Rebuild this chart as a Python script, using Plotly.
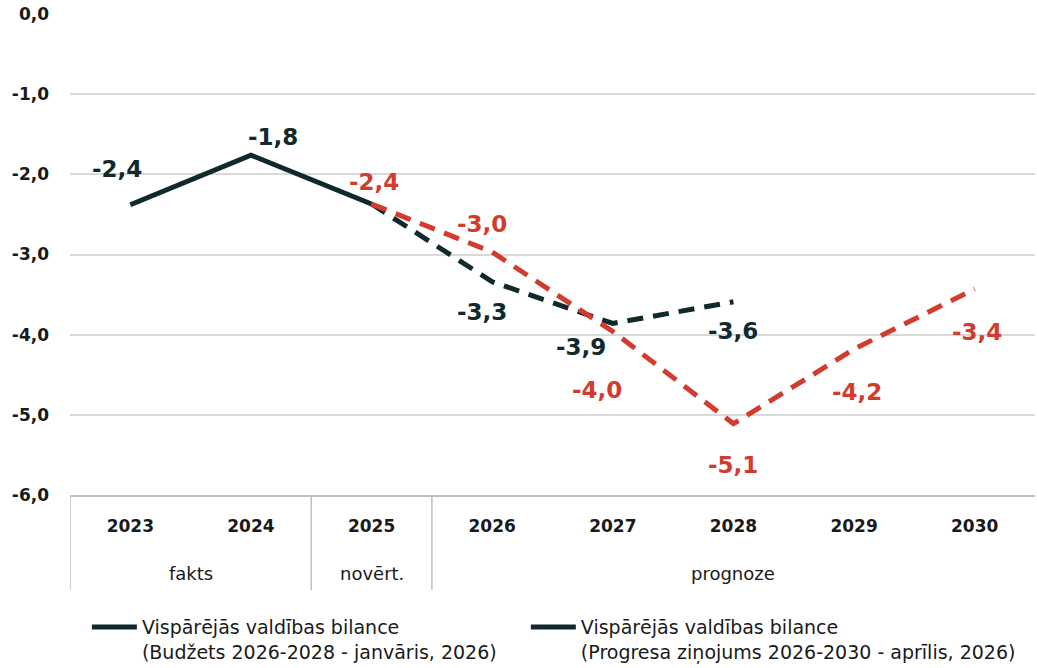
import plotly.graph_objects as go

# ---- data ----
years = ["2023", "2024", "2025", "2026", "2027", "2028", "2029", "2030"]
groups = ["fakts", "novērt.", "prognoze"]
group_spans = [(0, 1), (2, 2), (3, 7)]  # category index ranges for each group

budzets_years = ["2023", "2024", "2025", "2026", "2027", "2028"]
budzets_vals = [-2.38, -1.76, -2.37, -3.34, -3.86, -3.59]
budzets_solid_n = 3  # 2023-2025 solid (fakts + novērt.)

progresa_years = ["2025", "2026", "2027", "2028", "2029", "2030"]
progresa_vals = [-2.37, -2.97, -3.96, -5.11, -4.18, -3.43]

y_ticks = [0, -1, -2, -3, -4, -5, -6]

legend_names = [
    "Vispārējās valdības bilance<br>(Budžets 2026-2028 - janvāris, 2026)" + "\u00a0" * 4,
    "Vispārējās valdības bilance<br>(Progresa ziņojums 2026-2030 - aprīlis, 2026)",
]

# ---- styles ----
DARK = "#10292d"
RED = "#d23b2d"
GRID = "#d9d9d9"
AXIS = "#bfbfbf"
FONT = "DejaVu Sans"

# label offsets (px) for each point: (xshift, yshift)
budzets_lbl_shift = [(-13, 36), (22, 18), None, (-10, -30), (-32, -24), (0, -29)]
progresa_lbl_shift = [(2, 22), (-10, 28), (-16, -59), (0, -41), (3, -43), (2, -43)]


def fmt(v):
    return f"{v:.1f}".replace(".", ",")


fig = go.Figure()

# Budžets: solid part
fig.add_trace(go.Scatter(
    x=budzets_years[:budzets_solid_n], y=budzets_vals[:budzets_solid_n],
    mode="lines", line=dict(color=DARK, width=5), showlegend=False, hoverinfo="skip"))
# Budžets: dashed forecast part
fig.add_trace(go.Scatter(
    x=budzets_years[budzets_solid_n - 1:], y=budzets_vals[budzets_solid_n - 1:],
    mode="lines", line=dict(color=DARK, width=5, dash="16px,10px"), showlegend=False, hoverinfo="skip"))
# Progresa: dashed
fig.add_trace(go.Scatter(
    x=progresa_years, y=progresa_vals,
    mode="lines", line=dict(color=RED, width=5, dash="16px,10px"), showlegend=False, hoverinfo="skip"))

# legend-only entries (reference legend shows both as dark solid lines)
for nm in legend_names:
    fig.add_trace(go.Scatter(x=[None], y=[None], mode="lines",
                             line=dict(color=DARK, width=5), name=nm))

annotations = []
for yr, v, sh in zip(budzets_years, budzets_vals, budzets_lbl_shift):
    if sh is None:
        continue
    annotations.append(dict(x=years.index(yr), y=v, xref="x", yref="y", text=fmt(v), showarrow=False,
                            xshift=sh[0], yshift=sh[1],
                            font=dict(family=FONT, size=23, color=DARK, weight="bold")))
for yr, v, sh in zip(progresa_years, progresa_vals, progresa_lbl_shift):
    annotations.append(dict(x=years.index(yr), y=v, xref="x", yref="y", text=fmt(v), showarrow=False,
                            xshift=sh[0], yshift=sh[1],
                            font=dict(family=FONT, size=23, color=RED, weight="bold")))

# group labels under the years
for g, (a, b) in zip(groups, group_spans):
    annotations.append(dict(x=(a + b) / 2, y=0, xref="x", yref="paper", text=g,
                            showarrow=False, yanchor="middle", yshift=-78,
                            font=dict(family=FONT, size=18, color="#1a1a1a")))

shapes = []
div_bottom = -(590 - 495) / 481
for pos in [-0.5] + [b + 0.5 for (a, b) in group_spans[:-1]]:
    shapes.append(dict(type="line", xref="x", yref="paper", x0=pos, x1=pos,
                       y0=0, y1=div_bottom, line=dict(color=AXIS, width=1.5)))

fig.update_layout(
    width=1037, height=668,
    margin=dict(l=70, r=2, t=14, b=173, autoexpand=False),
    paper_bgcolor="white", plot_bgcolor="white",
    font=dict(family=FONT, color="#1a1a1a"),
    annotations=annotations,
    shapes=shapes,
    legend=dict(orientation="h", x=0.0175, xanchor="left", y=-0.235, yanchor="top",
                font=dict(family=FONT, size=19, color="#1a1a1a"),
                valign="top", itemwidth=45, bgcolor="rgba(0,0,0,0)"),
)
fig.update_xaxes(type="category", categoryorder="array", categoryarray=years,
                 range=[-0.5, len(years) - 0.5], automargin=False,
                 showgrid=False, showline=True, linecolor=AXIS, linewidth=2,
                 ticks="", ticklabelstandoff=15,
                 tickfont=dict(family=FONT, size=17, color="#1a1a1a", weight="bold"))
fig.update_yaxes(range=[-6, 0], tickvals=y_ticks, ticktext=[fmt(t) for t in y_ticks],
                 automargin=False,
                 showgrid=True, gridcolor=GRID, gridwidth=1.5, zeroline=False,
                 showline=False, ticks="", ticklabelstandoff=20,
                 tickfont=dict(family=FONT, size=17, color="#1a1a1a", weight="bold"))

fig.write_html("out.html", config={"displayModeBar": False},
               post_script="document.body.style.margin='0';document.body.style.padding='0';")
